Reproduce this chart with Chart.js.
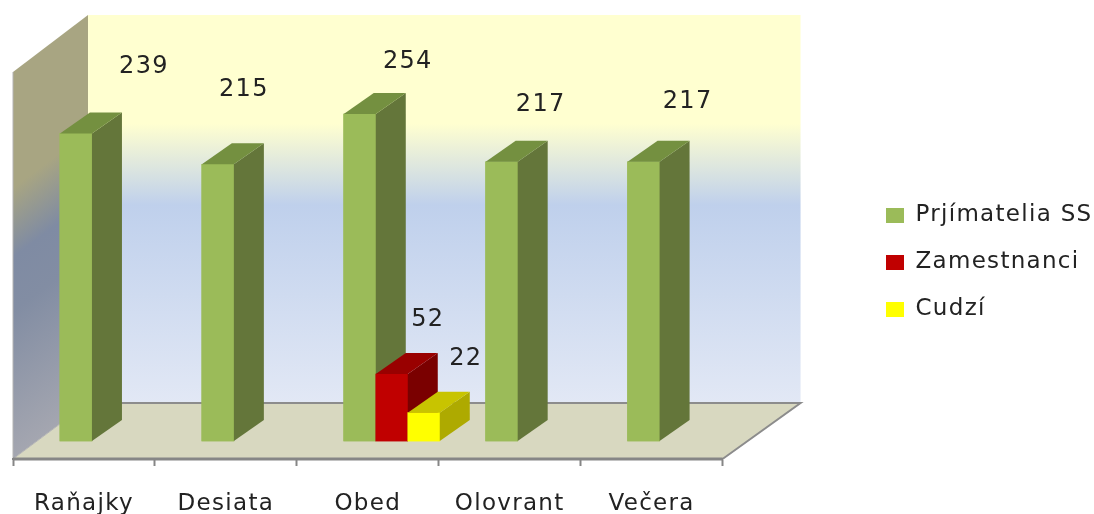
<!DOCTYPE html>
<html><head><meta charset="utf-8">
<style>html,body{margin:0;padding:0;background:#fff}#w{width:1094px;height:514px}</style>
<script src="https://cdn.jsdelivr.net/npm/chart.js@4"></script>
</head><body><div id="w"><canvas id="c" width="1094" height="514"></canvas></div>
<script>
const categories = ['Raňajky','Desiata','Obed','Olovrant','Večera'];
const seriesNames = ['Prjímatelia SS','Zamestnanci','Cudzí'];
const prijimatelia = [239,215,254,217,217];
const zamestnanci = [null,null,52,null,null];
const cudzi = [null,null,22,null,null];

const FONT = '"DejaVu Sans", sans-serif';
const TEXT = '#222';
const labelOffsets = [
  [[68,-67],[26,-75],[48,-52],[39,-57],[44,-60]],
  [null,null,[36,-54],null,null],
  [null,null,[42,-54],null,null]
];
const faces = [
  {front:'#9bbb59',side:'#64763a',top:'#749040'},
  {front:'#c00000',side:'#7a0000',top:'#990000'},
  {front:'#ffff00',side:'#aeaa00',top:'#c8c400'}
];
const D = {x:30,y:-21};      // bar depth
const W = {x:75,y:-56};      // room depth

const room = {
  id:'room',
  beforeUpdate(chart){ chart.ctx.letterSpacing='1.3px'; },
  afterLayout(chart){
    const b = chart.scales.xBars;
    b.left += 24; b.right += 24; b.configure();
    const l = chart.legend, w = l.right-l.left;
    l.left = 862; l.right = l.left+w;
    l.top -= 2; l.bottom -= 2;
  },
  beforeDatasetsDraw(chart){
    const c = chart.ctx, a = chart.chartArea;
    const bx = a.left+W.x, by = a.bottom+W.y, ty = a.top, rx = a.right+W.x+3;
    c.save();
    let g = c.createLinearGradient(0,ty,0,by);
    g.addColorStop(0,'#ffffd0'); g.addColorStop(.28,'#ffffd0');
    g.addColorStop(.49,'#bfd0ec'); g.addColorStop(1,'#e2e8f5');
    c.fillStyle = g; c.fillRect(bx,ty,rx-bx,by-ty);
    g = c.createLinearGradient(a.left,ty+57,a.left+185,ty+305);
    g.addColorStop(0,'#a8a582'); g.addColorStop(.3,'#a8a582');
    g.addColorStop(.48,'#7f8ba3'); g.addColorStop(.62,'#828da3'); g.addColorStop(1,'#a4a6b0');
    c.fillStyle = g; c.beginPath(); c.moveTo(a.left,ty+57); c.lineTo(bx,ty); c.lineTo(bx,by); c.lineTo(a.left,a.bottom); c.closePath(); c.fill();
    c.fillStyle = '#d8d8c0'; c.beginPath(); c.moveTo(a.left,a.bottom); c.lineTo(bx,by); c.lineTo(rx,by); c.lineTo(a.right,a.bottom); c.closePath(); c.fill();
    c.strokeStyle='#8c8c8c'; c.lineWidth=2;
    c.beginPath(); c.moveTo(bx,by); c.lineTo(rx,by); c.lineTo(a.right,a.bottom); c.stroke();
    c.strokeStyle='#b4b4b4'; c.lineWidth=1;
    c.beginPath(); c.moveTo(a.left,ty+57); c.lineTo(a.left,a.bottom); c.lineTo(bx,by); c.stroke();
    c.restore();
  },
  afterDatasetsDraw(chart){
    const c = chart.ctx;
    const zero = chart.scales.y.getPixelForValue(0);
    c.save();
    chart.data.datasets.forEach((ds,i)=>{
      const f = faces[i];
      chart.getDatasetMeta(i).data.forEach((e,j)=>{
        if(ds.data[j]==null) return;
        e.draw(c);
        const L=e.x-e.width/2,R=e.x+e.width/2,y=e.y;
        c.fillStyle=f.side; c.beginPath(); c.moveTo(R,y); c.lineTo(R+D.x,y+D.y); c.lineTo(R+D.x,zero+D.y); c.lineTo(R,zero); c.closePath(); c.fill();
        c.fillStyle=f.top; c.beginPath(); c.moveTo(L,y); c.lineTo(L+D.x,y+D.y); c.lineTo(R+D.x,y+D.y); c.lineTo(R,y); c.closePath(); c.fill();
      });
    });
    c.restore();
  },
  afterDraw(chart){
    const c = chart.ctx;
    c.save(); c.fillStyle=TEXT; c.font='24px '+FONT; c.textAlign='center'; c.textBaseline='middle';
    chart.data.datasets.forEach((ds,i)=>{
      chart.getDatasetMeta(i).data.forEach((e,j)=>{
        if(ds.data[j]==null) return;
        const o = labelOffsets[i][j];
        c.fillText(String(ds.data[j]), e.x+o[0], e.y+o[1]);
      });
    });
    const a = chart.chartArea;
    c.strokeStyle='#868686'; c.lineWidth=3;
    c.beginPath(); c.moveTo(a.left,a.bottom); c.lineTo(a.right,a.bottom); c.stroke();
    c.restore();
  }
};

new Chart(document.getElementById('c'),{
  type:'bar',
  data:{labels:categories,datasets:[
    {label:seriesNames[0],data:prijimatelia,backgroundColor:faces[0].front,xAxisID:'xBars'},
    {label:seriesNames[1],data:zamestnanci,backgroundColor:faces[1].front,xAxisID:'xBars'},
    {label:seriesNames[2],data:cudzi,backgroundColor:faces[2].front,xAxisID:'xBars'}
  ]},
  plugins:[room],
  options:{
    responsive:false,animation:false,
    layout:{padding:{left:13,top:15,right:131,bottom:0}},
    datasets:{bar:{barThickness:32,categoryPercentage:1,barPercentage:1}},
    scales:{
      y:{min:-14,max:331,display:false},
      xBars:{type:'category',position:'bottom',display:false,offset:true},
      x:{type:'category',position:'bottom',labels:categories,offset:true,
        afterFit(s){ s.height=55; },
        grid:{drawOnChartArea:false,color:'#868686',tickLength:7,tickWidth:2,offset:true,z:1},
        border:{color:'#868686',width:2,z:1},
        ticks:{color:TEXT,font:{family:FONT,size:23},padding:24,maxRotation:0}}
    },
    plugins:{
      tooltip:{enabled:false},
      legend:{position:'right',align:'center',
        labels:{font:{family:FONT,size:23},color:TEXT,boxWidth:18,boxHeight:15,padding:24}}
    }
  }
});
</script></body></html>
